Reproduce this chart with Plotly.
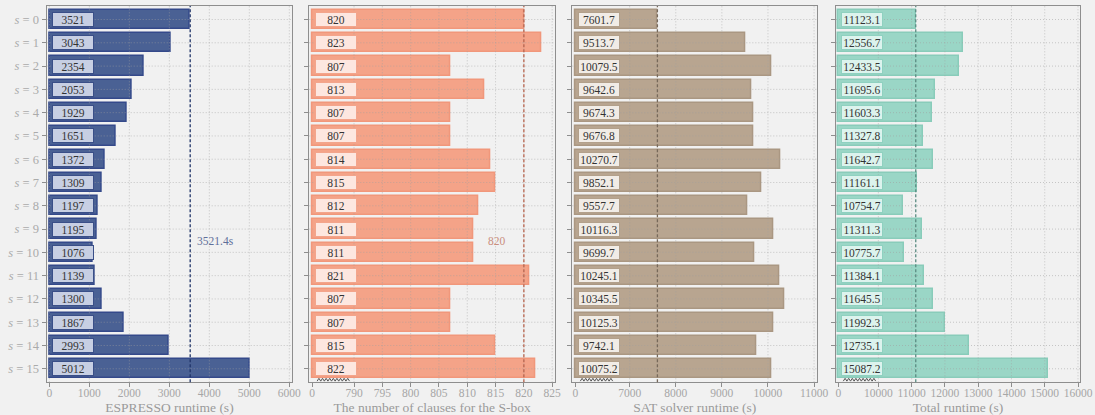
import plotly.graph_objects as go

# ---------------- data ----------------
rows = list(range(16))
row_labels = [f"<i>s</i> = {i}" for i in rows]

espresso = [3521, 3043, 2354, 2053, 1929, 1651, 1372, 1309, 1197, 1195, 1076, 1139, 1300, 1867, 2993, 5012]
clauses = [820, 823, 807, 813, 807, 807, 814, 815, 812, 811, 811, 821, 807, 807, 815, 822]
sat = [7601.7, 9513.7, 10079.5, 9642.6, 9674.3, 9676.8, 10270.7, 9852.1, 9557.7, 10116.3,
       9699.7, 10245.1, 10345.5, 10125.3, 9742.1, 10075.2]
total = [11123.1, 12556.7, 12433.5, 11695.6, 11603.3, 11327.8, 11642.7, 11161.1, 10754.7, 11311.3,
         10775.7, 11384.1, 11645.5, 11992.3, 12735.1, 15087.2]

espresso_text = [str(v) for v in espresso]
clauses_text = [str(v) for v in clauses]
sat_text = [f"{v:.1f}" for v in sat]
total_text = [f"{v:.1f}" for v in total]

ref_values = [3521.4, 820, 7601.7, 11123.1]
ref_labels = ["3521.4s", "820", None, None]

titles = ["ESPRESSO runtime (s)", "The number of clauses for the S-box",
          "SAT solver runtime (s)", "Total runtime (s)"]

ticks1 = [0, 1000, 2000, 3000, 4000, 5000, 6000]
ticks2 = [790, 795, 800, 805, 810, 815, 820, 825]
ticks3 = [7000, 8000, 9000, 10000, 11000]
ticks4 = [10000, 11000, 12000, 13000, 14000, 15000, 16000]

# ---------------- layout / style ----------------
W, H = 1095, 415
FONT = "Liberation Serif"
BG = "#f1f1f1"
FRAME = "#8e8e8e"

panels = [
    dict(vals=espresso, text=espresso_text, ticks=ticks1, zero=0, broken=False,
         rng=[-67, 6075], px=(46.7, 292.3),
         fill="#4a6194", edge="#34498a", box="#c7cfe3", boxedge="#3a4f88",
         ref="#1f3468", reftext="#5f6f9a", refx=3640, refanchor="left"),
    dict(vals=clauses, text=clauses_text, ticks=ticks2, zero=782.6, broken=True,
         rng=[782.1, 825.5], px=(309.3, 555.0),
         fill="#f4a388", edge="#f1977b", box="#fde7e0", boxedge="#f3a58c",
         ref="#b8654f", reftext="#c98f7e", refx=815.3, refanchor="center"),
    dict(vals=sat, text=sat_text, ticks=ticks3, zero=5821, broken=True,
         rng=[5756, 11070], px=(572.3, 817.3),
         fill="#b8a590", edge="#aa9782", box="#f1ece6", boxedge="#b2a08b",
         ref="#76685a", reftext="#8a7a6a", refx=None, refanchor="left"),
    dict(vals=total, text=total_text, ticks=ticks4, zero=8795, broken=True,
         rng=[8726, 16060], px=(836.0, 1080.0),
         fill="#9ad6c6", edge="#89ccba", box="#dcf3ed", boxedge="#8fd1c0",
         ref="#5b8c82", reftext="#6f9f95", refx=None, refanchor="left"),
]

Y_RANGE = [15.58, -0.58]
Y_DOM = [1 - 382.3 / H, 1 - 6.0 / H]

fig = go.Figure()
shapes = []
annotations = []

for i, p in enumerate(panels):
    k = "" if i == 0 else str(i + 1)
    xa, ya = "x" + k, "y" + k
    base = p["zero"]
    fig.add_trace(go.Bar(
        y=rows, x=[v - base for v in p["vals"]], base=base, orientation="h",
        width=0.83, marker=dict(color=p["fill"], line=dict(color=p["edge"], width=1.5)),
        xaxis=xa, yaxis=ya, showlegend=False, hoverinfo="skip",
    ))

    tickvals = list(p["ticks"])
    ticktext = [str(t) for t in p["ticks"]]
    if p["broken"]:
        tickvals = [base] + tickvals
        ticktext = ["0"] + ticktext

    xkey = "xaxis" + k
    ykey = "yaxis" + k
    fig.layout[xkey] = dict(
        domain=[p["px"][0] / W, p["px"][1] / W], range=p["rng"], anchor=ya,
        tickvals=tickvals, ticktext=ticktext, ticks="outside", ticklen=4, tickwidth=1,
        tickcolor=FRAME, showline=True, linecolor=FRAME, linewidth=1.3, mirror=True,
        showgrid=False, zeroline=False, ticklabelstandoff=-4,
        tickfont=dict(family=FONT, size=11.5, color="#a6a6a6"),
        title=dict(text=titles[i], font=dict(family=FONT, size=13.5, color="#9a9a9a"), standoff=6),
        automargin=False,
    )
    fig.layout[ykey] = dict(
        domain=Y_DOM, range=Y_RANGE, anchor=xa,
        tickvals=rows, ticktext=row_labels if i == 0 else [""] * 16,
        showticklabels=(i == 0), ticks="outside", ticklen=4, tickwidth=1, tickcolor=FRAME,
        showline=True, linecolor=FRAME, linewidth=1.3, mirror=True,
        showgrid=False, zeroline=False,
        tickfont=dict(family=FONT, size=12.5, color="#ababab"),
        automargin=False,
    )

    # dotted grid drawn above bars (semi-transparent)
    grid_col = "rgba(160,160,160,0.55)"
    for r in rows:
        shapes.append(dict(type="line", xref=xa + " domain", yref=ya, x0=0, x1=1, y0=r, y1=r,
                           line=dict(color=grid_col, width=1, dash="1px,2px"), layer="above"))
    for t in p["ticks"]:
        shapes.append(dict(type="line", xref=xa, yref=ya + " domain", x0=t, x1=t, y0=0, y1=1,
                           line=dict(color=grid_col, width=1, dash="1px,2px"), layer="above"))

    # reference dashed line
    shapes.append(dict(type="line", xref=xa, yref=ya + " domain",
                       x0=ref_values[i], x1=ref_values[i], y0=0, y1=1,
                       line=dict(color=p["ref"], width=1.3, dash="3px,2px"), layer="above"))
    if ref_labels[i]:
        annotations.append(dict(xref=xa, yref=ya, x=p["refx"], y=9.5, text=ref_labels[i],
                                showarrow=False, xanchor=p["refanchor"], yanchor="middle",
                                font=dict(family=FONT, size=11.5, color=p["reftext"])))

    # axis-break zigzag
    if p["broken"]:
        span = (p["rng"][1] - p["rng"][0]) / (p["px"][1] - p["px"][0])  # data per pixel
        x_start = base + 5 * span
        n = 9
        step = 3.6 * span
        path = f"M {x_start},15.53"
        for j in range(n):
            xm = x_start + (j + 0.5) * step
            xe = x_start + (j + 1) * step
            path += f" L {xm},15.41 L {xe},15.53"
        shapes.append(dict(type="path", xref=xa, yref=ya, path=path,
                           line=dict(color="#555555", width=1), layer="above"))

    # value label boxes
    for r, txt in zip(rows, p["text"]):
        annotations.append(dict(
            xref=xa, yref=ya, x=base, y=r, xanchor="left", yanchor="middle", xshift=2.5,
            text=txt, showarrow=False, width=38, height=11, align="center",
            bgcolor=p["box"], bordercolor=p["boxedge"], borderwidth=1, borderpad=1,
            font=dict(family=FONT, size=11.5, color="#333333"),
        ))

fig.update_layout(
    width=W, height=H, margin=dict(l=0, r=0, t=0, b=0),
    paper_bgcolor=BG, plot_bgcolor=BG, bargap=0,
    shapes=shapes, annotations=annotations,
    font=dict(family=FONT),
)

fig.write_html("out.html")
